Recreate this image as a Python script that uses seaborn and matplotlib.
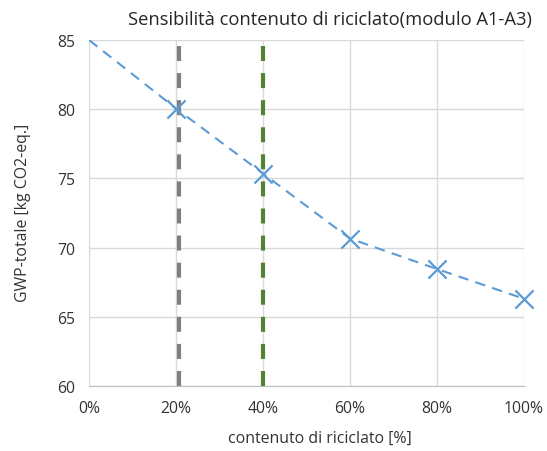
import seaborn as sns
import matplotlib.pyplot as plt
import pandas as pd

# data
recycled_pct = [0, 20, 40, 60, 80, 100]
gwp_total = [85.0, 80.05, 75.35, 70.65, 68.45, 66.3]
ref_lines = [20.7, 40.0]
ref_colors = ['#7F7F7F', '#548235']
x_ticks = [0, 20, 40, 60, 80, 100]
y_ticks = [60, 65, 70, 75, 80, 85]

sns.set_style('white')
plt.rcParams['font.family'] = ['Open Sans', 'DejaVu Sans']

fig = plt.figure(figsize=(5.47, 4.52), dpi=100)
ax = fig.add_axes([0.163, 0.144, 0.795, 0.765])

df = pd.DataFrame({'x': recycled_pct, 'y': gwp_total})

for xv, c in zip(ref_lines, ref_colors):
    ax.axvline(xv, color=c, lw=3, ls=(0, (3.6, 2.9)), zorder=2)

sns.lineplot(data=df, x='x', y='y', ax=ax, color='#5B9BD5', lw=1.5,
             ls=(0, (5, 3.5)), zorder=3)
# no marker at 0%
sns.scatterplot(data=df.iloc[1:], x='x', y='y', ax=ax, color='#5B9BD5',
                marker='x', s=170, linewidth=1.6, zorder=4, clip_on=False)

ax.set_xlim(0, 100)
ax.set_ylim(60, 85)
ax.set_xticks(x_ticks)
ax.set_xticklabels([f'{v}%' for v in x_ticks])
ax.set_yticks(y_ticks)
ax.grid(True, color='#D9D9D9', lw=1)
ax.set_axisbelow(True)
for s in ['top', 'right', 'left']:
    ax.spines[s].set_visible(False)
ax.spines['bottom'].set_color('#BFBFBF')
ax.tick_params(axis='both', length=0, labelsize=11.3, colors='#333333', pad=10)

ax.set_xlabel('')
ax.set_ylabel('')
fig.text(0.603, 0.955, 'Sensibilità contenuto di riciclato(modulo A1-A3)',
         ha='center', va='center', fontsize=13.2, color='#262626')
fig.text(0.585, 0.03, 'contenuto di riciclato [%]', ha='center', va='center',
         fontsize=11.4, color='#333333')
fig.text(0.042, 0.53, 'GWP-totale [kg CO2-eq.]', ha='center', va='center',
         rotation=90, fontsize=11.4, color='#333333')

fig.savefig('out.png', dpi=100)
